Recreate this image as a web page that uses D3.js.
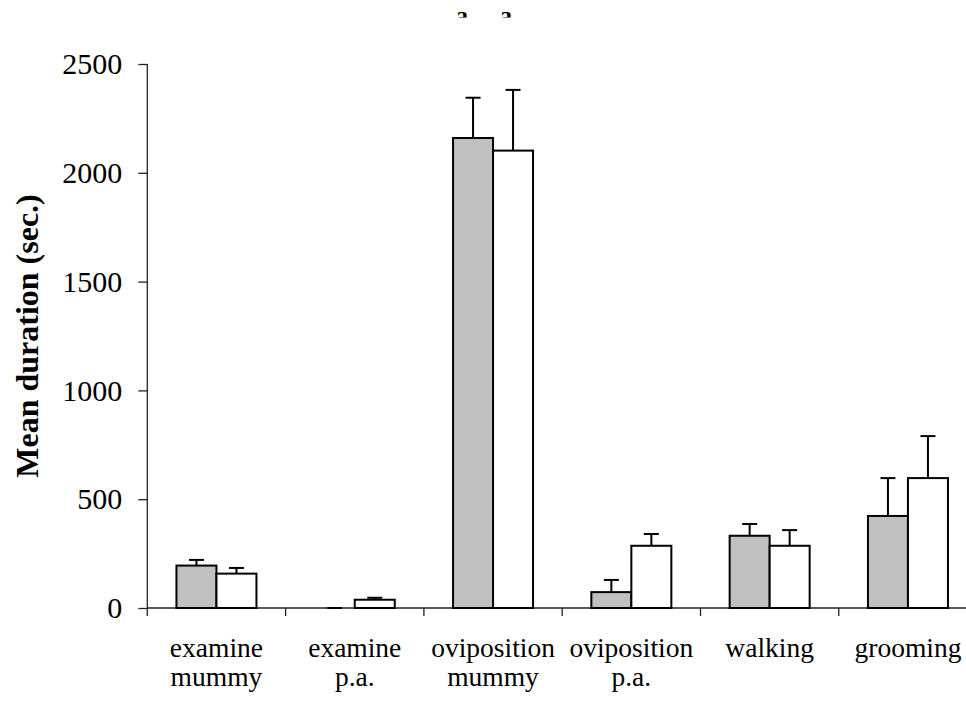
<!DOCTYPE html>
<html>
<head>
<meta charset="utf-8">
<script src="https://cdn.jsdelivr.net/npm/d3@7"></script>
<style>
  html, body { margin: 0; padding: 0; background: #fff; }
  svg { display: block; }
  text { font-family: "Liberation Serif", "Times New Roman", serif; fill: #000; }
</style>
</head>
<body>
<svg id="chart" width="966" height="702"></svg>
<script>
// Behaviour categories (label lines) and the two treatment series
const categories = ["examine mummy", "examine p.a.", "oviposition mummy", "oviposition p.a.", "walking", "grooming"];
const categoryLines = [["examine", "mummy"], ["examine", "p.a."], ["oviposition", "mummy"], ["oviposition", "p.a."], ["walking"], ["grooming"]];
const series = ["grey", "white"];
const greyMeans = [195, 0, 2160, 73, 332, 423];
const greyErrors = [26, 0, 185, 56, 54, 174];
const whiteMeans = [158, 38, 2102, 286, 286, 597];
const whiteErrors = [26, 9, 279, 54, 72, 193];
const yTicks = [0, 500, 1000, 1500, 2000, 2500];
const groupLetters = ["a", "a"];

const svg = d3.select("#chart");

const plot = { left: 147.3, top: 64, bottom: 608, step: 138.3 };

const x = d3.scaleBand()
  .domain(categories)
  .range([plot.left, plot.left + plot.step * categories.length])
  .padding(0);

const barWidth = 40;
const outer = (x.bandwidth() / barWidth - series.length) / 2;
const xSub = d3.scaleBand()
  .domain(series)
  .range([0, x.bandwidth()])
  .paddingInner(0)
  .paddingOuter(outer);

const y = d3.scaleLinear().domain([0, 2500]).range([plot.bottom, plot.top]);

const fills = { grey: "#c0c0c0", white: "#ffffff" };

const rows = categories.map((c, i) => ({
  cat: c,
  values: [
    { key: "grey", mean: greyMeans[i], err: greyErrors[i] },
    { key: "white", mean: whiteMeans[i], err: whiteErrors[i] }
  ]
}));

// Y axis
const yAxis = svg.append("g")
  .attr("transform", `translate(${plot.left},0)`)
  .call(d3.axisLeft(y).tickValues(yTicks).tickFormat(d3.format("d")).tickSize(9).tickSizeOuter(0).tickPadding(16));
yAxis.select(".domain").remove();
yAxis.selectAll(".tick line").attr("stroke", "#222").attr("stroke-width", 1.3);
yAxis.selectAll(".tick text")
  .style("font-family", "'Liberation Serif', 'Times New Roman', serif")
  .style("font-size", "30px")
  .attr("fill", "#000");
yAxis.append("line")
  .attr("x1", 0).attr("x2", 0)
  .attr("y1", plot.top).attr("y2", plot.bottom)
  .attr("stroke", "#222").attr("stroke-width", 1.3);

// X axis: baseline with separators between categories
const xAxis = svg.append("g").attr("transform", `translate(0,${plot.bottom})`);
xAxis.append("line")
  .attr("x1", plot.left).attr("x2", x.range()[1])
  .attr("y1", 0).attr("y2", 0)
  .attr("stroke", "#222").attr("stroke-width", 1.3);
xAxis.selectAll("line.sep")
  .data(categories)
  .join("line")
  .attr("class", "sep")
  .attr("x1", d => x(d)).attr("x2", d => x(d))
  .attr("y1", 0).attr("y2", 8)
  .attr("stroke", "#222").attr("stroke-width", 1.3);

const labels = xAxis.selectAll("text.cat")
  .data(categories)
  .join("text")
  .attr("class", "cat")
  .attr("text-anchor", "middle")
  .attr("x", d => x(d) + x.bandwidth() / 2)
  .style("font-size", "27.5px");
labels.selectAll("tspan")
  .data((d, i) => categoryLines[i])
  .join("tspan")
  .attr("x", function () { return d3.select(this.parentNode).attr("x"); })
  .attr("y", (d, i) => 49 + i * 29)
  .text(d => d);

// Bars and error bars (drawn over the baseline)
const groups = svg.append("g").selectAll("g")
  .data(rows)
  .join("g")
  .attr("transform", d => `translate(${x(d.cat)},0)`);

groups.selectAll("line.err")
  .data(d => d.values)
  .join("line")
  .attr("class", "err")
  .attr("x1", d => xSub(d.key) + xSub.bandwidth() / 2)
  .attr("x2", d => xSub(d.key) + xSub.bandwidth() / 2)
  .attr("y1", d => y(d.mean))
  .attr("y2", d => y(d.mean + d.err))
  .attr("stroke", "#000")
  .attr("stroke-width", 2);

groups.selectAll("line.cap")
  .data(d => d.values)
  .join("line")
  .attr("class", "cap")
  .attr("x1", d => xSub(d.key) + xSub.bandwidth() / 2 - 7.5)
  .attr("x2", d => xSub(d.key) + xSub.bandwidth() / 2 + 7.5)
  .attr("y1", d => y(d.mean + d.err))
  .attr("y2", d => y(d.mean + d.err))
  .attr("stroke", "#000")
  .attr("stroke-width", 2);

groups.selectAll("rect")
  .data(d => d.values.filter(v => v.mean > 0))
  .join("rect")
  .attr("x", d => xSub(d.key))
  .attr("width", xSub.bandwidth())
  .attr("y", d => y(d.mean))
  .attr("height", d => y(0) - y(d.mean))
  .attr("fill", d => fills[d.key])
  .attr("stroke", "#000")
  .attr("stroke-width", 2);

// Y axis title
svg.append("text")
  .attr("transform", `translate(38,${(plot.top + plot.bottom) / 2}) rotate(-90)`)
  .attr("text-anchor", "middle")
  .style("font-size", "32px")
  .style("font-weight", "bold")
  .text("Mean duration (sec.)");

// Group letters above the oviposition-on-mummy bars (partly hidden by the top margin)
svg.append("clipPath").attr("id", "topclip")
  .append("rect").attr("x", 0).attr("y", 0).attr("width", 966).attr("height", 17.5);
svg.append("g").attr("clip-path", "url(#topclip)")
  .selectAll("text")
  .data(groupLetters)
  .join("text")
  .attr("x", (d, i) => [462, 506][i])
  .attr("y", 23)
  .attr("text-anchor", "middle")
  .style("font-size", "24px")
  .style("font-weight", "bold")
  .text(d => d);
</script>
</body>
</html>
